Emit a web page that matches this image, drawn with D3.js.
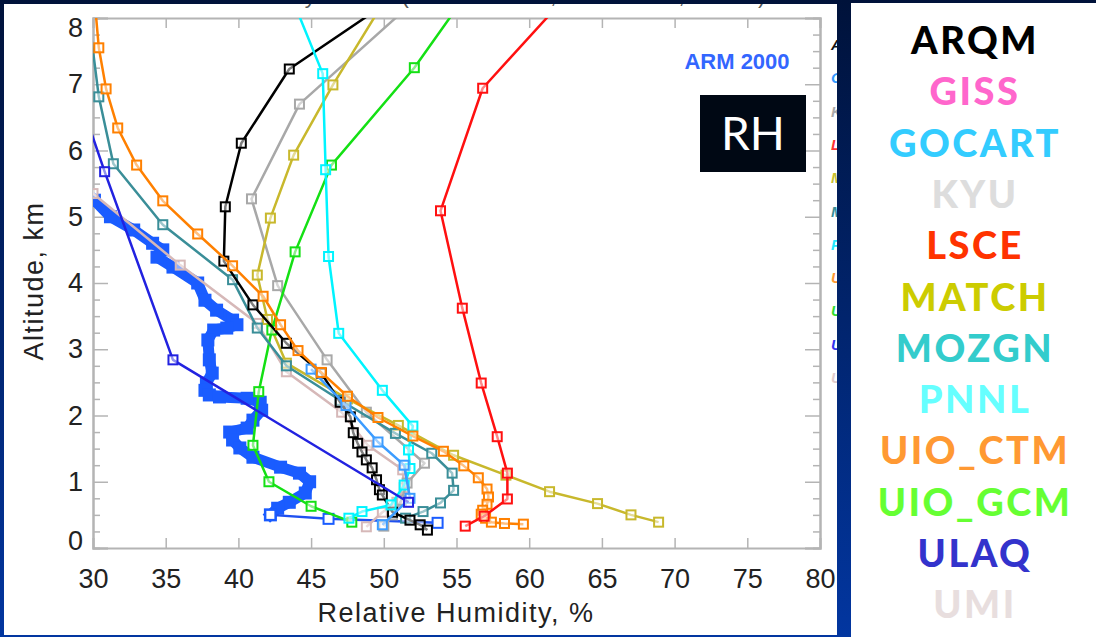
<!DOCTYPE html>
<html>
<head>
<meta charset="utf-8">
<script src="https://cdn.jsdelivr.net/npm/d3@7"></script>
<style>
  html, body { margin: 0; padding: 0; background: #00123a; }
  svg { display: block; }
</style>
</head>
<body>
<svg id="chart" width="1096" height="637"></svg>
<script>
// ---- data: [relative humidity %, altitude km] ----
const ARQM = [[51.5,8.42],[43.5,7.23],[40.2,6.11],[39.1,5.15],[39.0,4.33],[41.0,3.67],[43.3,3.09],[45.7,2.64],[47.0,2.20],[47.7,1.98],[47.9,1.74],[48.2,1.58],[48.5,1.45],[48.8,1.33],[49.2,1.21],[49.5,1.03],[49.7,0.88],[49.9,0.80],[50.6,0.54],[51.8,0.42],[52.5,0.35],[53.0,0.27]];
const KYU = [[53.5,8.53],[44.2,6.70],[40.9,5.27],[42.7,3.96],[46.1,2.84],[48.8,2.05],[52.8,1.28],[51.6,0.98],[51.2,0.72],[50.6,0.50],[50.0,0.33]];
const LSCE = [[63.4,8.53],[56.8,6.94],[53.9,5.09],[55.4,3.62],[56.7,2.49],[57.8,1.68],[58.5,1.13],[58.5,0.74],[56.9,0.48],[55.6,0.33]];
const MATCH = [[51.0,8.6],[46.5,6.99],[43.8,5.93],[42.2,4.98],[41.3,4.12],[42.0,3.45],[43.3,2.79],[47.5,2.25],[51.0,1.85],[54.8,1.40],[58.4,1.10],[61.4,0.85],[64.7,0.67],[67.0,0.50],[68.9,0.39]];
const MOZGN = [[29.6,8.2],[30.4,6.81],[31.4,5.80],[34.8,4.88],[39.6,4.05],[41.3,3.32],[43.3,2.75],[47.0,2.23],[50.8,1.73],[53.3,1.43],[54.7,1.13],[54.8,0.87],[53.9,0.68],[52.7,0.55],[51.5,0.45]];
const PNNL = [[43.5,8.4],[45.8,7.16],[46.0,5.71],[46.2,4.40],[46.9,3.24],[49.9,2.38],[52.0,1.84],[51.7,1.48],[51.8,1.20],[51.4,0.95],[50.5,0.65],[48.5,0.55],[47.6,0.45]];
const UIO_CTM = [[30.1,8.3],[30.4,7.55],[30.9,6.93],[31.7,6.34],[33.0,5.78],[34.8,5.24],[37.2,4.74],[39.6,4.26],[41.7,3.80],[42.9,3.37],[44.1,2.98],[45.7,2.65],[47.5,2.29],[49.6,1.97],[52.0,1.69],[54.1,1.46],[55.5,1.24],[56.5,1.06],[57.1,0.89],[57.2,0.77],[57.1,0.66],[56.8,0.57],[56.7,0.51],[57.0,0.45],[57.4,0.39],[58.3,0.37],[59.6,0.36]];
const UIO_GCM = [[55.5,8.3],[52.1,7.25],[46.4,5.78],[43.9,4.47],[42.3,3.29],[41.4,2.36],[41.0,1.55],[42.1,1.00],[45.0,0.63],[47.8,0.39]];
const ULAQ = [[29.6,6.45],[30.8,5.68],[35.5,2.84],[51.7,0.69]];
const UMI = [[30.0,5.35],[36.0,4.27],[41.3,3.39],[43.3,2.66],[47.1,2.05],[48.9,1.55],[51.3,1.18],[51.4,0.91],[50.9,0.69],[49.9,0.54],[48.8,0.32]];
const GOCART = [[45.0,2.70],[47.4,2.15],[49.6,1.60],[51.4,1.25],[51.8,0.75],[49.9,0.35]];
const ARM2000 = [[30.1,5.25],[31.2,5.00],[32.8,4.80],[34.1,4.60],[34.8,4.50],[34.4,4.39],[35.5,4.24],[37.2,4.00],[37.7,3.74],[38.5,3.59],[39.6,3.44],[39.9,3.37],[39.2,3.32],[38.3,3.29],[37.9,3.14],[38.0,2.84],[38.2,2.64],[37.8,2.49],[37.7,2.38],[38.0,2.31],[38.7,2.28],[40.6,2.26],[41.5,2.20],[41.6,2.08],[41.0,1.93],[40.6,1.81],[39.4,1.75],[39.6,1.63],[40.1,1.51],[41.0,1.37],[42.9,1.22],[44.2,1.13],[44.9,1.00],[44.6,0.83],[43.5,0.69],[42.7,0.60],[42.2,0.50]];
const ARM2000_low = [[42.2,0.50],[46.2,0.44],[53.7,0.38]];

const xTicks = [30,35,40,45,50,55,60,65,70,75,80];
const yTicks = [0,1,2,3,4,5,6,7,8];
const legendNames = ["ARQM","GISS","GOCART","KYU","LSCE","MATCH","MOZGN","PNNL","UIO_CTM","UIO_GCM","ULAQ","UMI"];
const legendColors = ["#000000","#ff66cc","#33ccff","#dddddd","#ff3300","#cccc00","#33cccc","#66ffff","#ff9933","#66ff33","#3333cc","#e8dede"];
const innerNames = ["ARQM","GOCART","KYU","LSCE","MATCH","MOZGN","PNNL","UIO_CTM","UIO_GCM","ULAQ","UMI"];
const innerColors = ["#111111","#3399ff","#aaaaaa","#ff3333","#c8c030","#3a8e98","#22e8ff","#ff9933","#33dd33","#3333ee","#e0cccc"];

const series = [
  {data: UMI, color: "#d6b8b8"},
  {data: KYU, color: "#a8a8a8"},
  {data: MATCH, color: "#c8b82c"},
  {data: UIO_GCM, color: "#14e014"},
  {data: MOZGN, color: "#3a8e98"},
  {data: ARQM, color: "#000000"},
  {data: PNNL, color: "#00f4ff"},
  {data: GOCART, color: "#3c9cff"},
  {data: UIO_CTM, color: "#ff8000"},
  {data: LSCE, color: "#ff1010"},
  {data: ULAQ, color: "#2222e0"}
];

const svg = d3.select("#chart");
const defs = svg.append("defs");
const grad = defs.append("linearGradient").attr("id","bg").attr("x1",0).attr("y1",0).attr("x2",0).attr("y2",1);
grad.append("stop").attr("offset","0%").attr("stop-color","#00123a");
grad.append("stop").attr("offset","100%").attr("stop-color","#0236a0");
svg.append("rect").attr("width",1096).attr("height",637).attr("fill","url(#bg)");

// white chart panel and white legend panel
svg.append("rect").attr("x",4).attr("y",4).attr("width",833).attr("height",631).attr("fill","#ffffff");
svg.append("rect").attr("x",851).attr("y",3).attr("width",245).attr("height",634).attr("fill","#ffffff");

defs.append("clipPath").attr("id","panelClip").append("rect").attr("x",4).attr("y",4).attr("width",833).attr("height",631);
defs.append("clipPath").attr("id","plotClip").append("rect").attr("x",93).attr("y",18).attr("width",727).attr("height",530);

const panel = svg.append("g").attr("clip-path","url(#panelClip)");

const x = d3.scaleLinear().domain([30,80]).range([93,820]);
const y = d3.scaleLinear().domain([0,8]).range([548,18]);

// title, mostly cut off by the panel edge
panel.append("text").attr("x",455).attr("y",3).attr("text-anchor","middle")
  .attr("font-family","Liberation Sans, Arial, sans-serif").attr("font-size",22).attr("fill","#555")
  .text("Relative Humidity Profiles (ARM SGP site, March 2000, 0-8 km)");

const axisColor = "#b4b4b4";
const tickFont = "Liberation Sans, Arial, sans-serif";

// bottom axis
const gx = panel.append("g").attr("transform","translate(0,548)")
  .call(d3.axisBottom(x).tickValues(xTicks).tickSize(-10).tickPadding(21).tickFormat(d3.format("d")));
// top axis
const gxt = panel.append("g").attr("transform","translate(0,18)")
  .call(d3.axisTop(x).tickValues(xTicks).tickSize(-10).tickFormat(""));
// left axis: majors with labels, minors every 0.25 km
const minorY = d3.range(0, 8.001, 0.25).filter(v => Math.abs(v - Math.round(v)) > 1e-6);
const gyMinor = panel.append("g").attr("transform","translate(93,0)")
  .call(d3.axisLeft(y).tickValues(minorY).tickSize(-7).tickFormat(""));
const gy = panel.append("g").attr("transform","translate(93,0)")
  .call(d3.axisLeft(y).tickValues(yTicks).tickSize(-15).tickPadding(10).tickFormat(d3.format("d")));
const gyrMinor = panel.append("g").attr("transform","translate(820,0)")
  .call(d3.axisRight(y).tickValues(minorY).tickSize(-7).tickFormat(""));
const gyr = panel.append("g").attr("transform","translate(820,0)")
  .call(d3.axisRight(y).tickValues(yTicks).tickSize(-15).tickFormat(""));

[gx,gxt,gy,gyMinor,gyr,gyrMinor].forEach(g => {
  g.selectAll(".domain").attr("stroke",axisColor).attr("stroke-width",2);
  g.selectAll(".tick line").attr("stroke",axisColor).attr("stroke-width",1.5);
  g.selectAll("text").attr("font-family",tickFont).attr("font-size",27).attr("fill","#222");
});
gy.selectAll(".tick text").filter(d => d === 0).attr("dy","0.05em");
gy.selectAll(".tick text").filter(d => d === 8).attr("dy","0.68em");

// axis titles
panel.append("text").attr("x",456).attr("y",622).attr("text-anchor","middle")
  .attr("font-family",tickFont).attr("font-size",27).attr("letter-spacing",1.5).attr("fill","#222").text("Relative Humidity, %");
panel.append("text").attr("transform","translate(43,281) rotate(-90)").attr("text-anchor","middle")
  .attr("font-family",tickFont).attr("font-size",27).attr("letter-spacing",1.5).attr("fill","#222").text("Altitude, km");

// profiles
const plot = panel.append("g").attr("clip-path","url(#plotClip)");
const line = d3.line().x(d => x(d[0])).y(d => y(d[1]));

// observed profile: dense soundings drawn as a heavy band
plot.append("path").datum(ARM2000).attr("d",line).attr("fill","none")
  .attr("stroke","#1a5cff").attr("stroke-width",11).attr("stroke-linejoin","round").attr("stroke-linecap","square");
plot.selectAll(".obs").data(ARM2000).join("rect")
  .attr("x",d => x(d[0]) - 6.5).attr("y",d => y(d[1]) - 6.5).attr("width",13).attr("height",13)
  .attr("fill","#1a5cff");
plot.append("path").datum(ARM2000_low).attr("d",line).attr("fill","none")
  .attr("stroke","#1f50f0").attr("stroke-width",2.5);
plot.selectAll(".obslow").data(ARM2000_low).join("rect")
  .attr("x",d => x(d[0]) - 5).attr("y",d => y(d[1]) - 5).attr("width",10).attr("height",10)
  .attr("fill","#ffffff").attr("stroke","#1a5cff").attr("stroke-width",2);

series.forEach(s => {
  plot.append("path").datum(s.data).attr("d",line).attr("fill","none")
    .attr("stroke",s.color).attr("stroke-width",2.5).attr("stroke-linejoin","round");
  plot.append("g").selectAll("rect").data(s.data).join("rect")
    .attr("x",d => x(d[0]) - 4.5).attr("y",d => y(d[1]) - 4.5).attr("width",9).attr("height",9)
    .attr("fill","#ffffff").attr("fill-opacity",0.5).attr("stroke",s.color).attr("stroke-width",2);
});

// annotations
panel.append("text").attr("x",737).attr("y",69).attr("text-anchor","middle")
  .attr("font-family","Liberation Sans, Arial, sans-serif").attr("font-weight","bold").attr("font-size",22)
  .attr("fill","#3366ff").text("ARM 2000");
panel.append("rect").attr("x",700).attr("y",95).attr("width",106).attr("height",77).attr("fill","#000814");
panel.append("text").attr("x",753).attr("y",150).attr("text-anchor","middle")
  .attr("font-family","Comic Sans MS, Lato, Noto Sans, sans-serif").attr("font-size",46)
  .attr("fill","#ffffff").text("RH");

// inner legend, cut off at the panel edge
panel.append("g").selectAll("text").data(innerNames).join("text")
  .attr("x",831).attr("y",(d,i) => 50 + i*33.3)
  .attr("font-family","Liberation Sans, Arial, sans-serif").attr("font-weight","bold").attr("font-style","italic")
  .attr("font-size",15).attr("fill",(d,i) => innerColors[i]).text(d => d);

// side legend
svg.append("g").selectAll("text").data(legendNames).join("text")
  .attr("x",975).attr("y",(d,i) => 54 + i*51.3).attr("text-anchor","middle")
  .attr("font-family","Comic Sans MS, Lato, Noto Sans, sans-serif").attr("font-weight","900")
  .attr("font-size",38).attr("letter-spacing",2.5).attr("fill",(d,i) => legendColors[i]).text(d => d);
</script>
</body>
</html>
